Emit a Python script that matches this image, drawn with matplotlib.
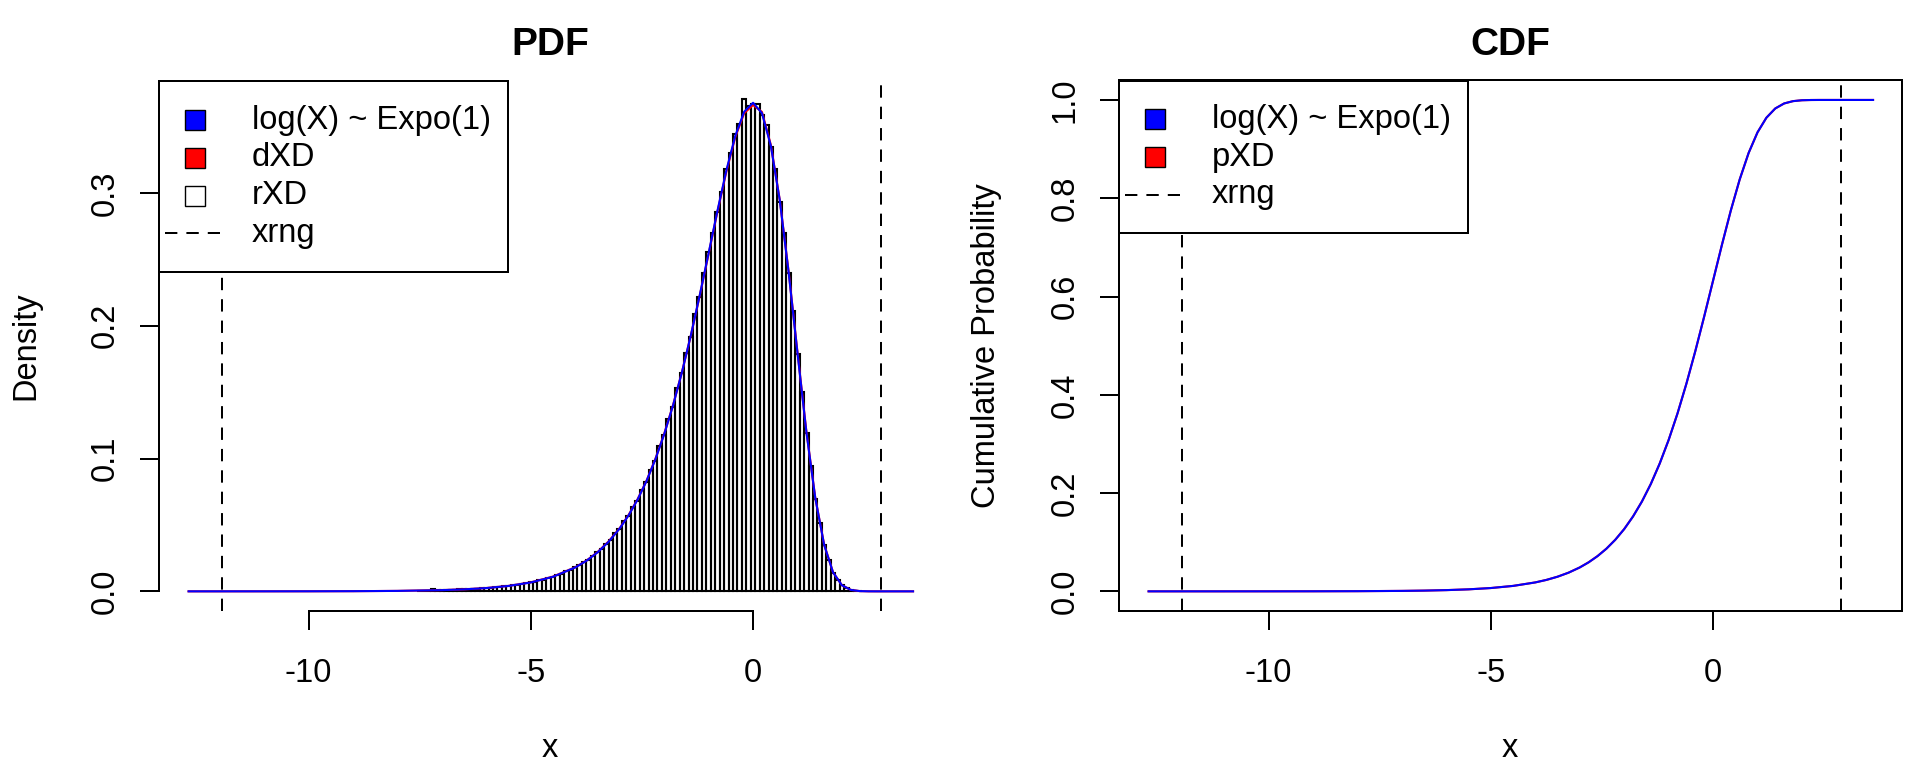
import matplotlib
matplotlib.use("Agg")
import matplotlib.pyplot as plt
from matplotlib.patches import Rectangle
from matplotlib.lines import Line2D
import numpy as np

plt.rcParams['font.family'] = ['Liberation Sans', 'DejaVu Sans']
plt.rcParams['lines.scale_dashes'] = False
plt.rcParams['axes.unicode_minus'] = False

# histogram of rXD: first bin starts at bin_lo, width bin_w
bin_lo = -7.55
bin_w = 0.1
hist_density = [
    0.0005, 0.0006, 0.0004, 0.0016, 0.0008, 0.0009, 0.0011, 0.0010, 0.0013, 0.0014,
    0.0016, 0.0015, 0.0019, 0.0020, 0.0023, 0.0026, 0.0027, 0.0031, 0.0033, 0.0038,
    0.0040, 0.0046, 0.0049, 0.0056, 0.0060, 0.0068, 0.0073, 0.0083, 0.0089, 0.0102,
    0.0108, 0.0125, 0.0131, 0.0150, 0.0161, 0.0182, 0.0196, 0.0222, 0.0238, 0.0263,
    0.0297, 0.0319, 0.0360, 0.0386, 0.0436, 0.0468, 0.0527, 0.0566, 0.0636, 0.0682,
    0.0764, 0.0820, 0.0915, 0.0985, 0.1093, 0.1176, 0.1297, 0.1391, 0.1530, 0.1641,
    0.1794, 0.1918, 0.2087, 0.2218, 0.2395, 0.2555, 0.2700, 0.2858, 0.3010, 0.3178,
    0.3298, 0.3440, 0.3522, 0.3710, 0.3652, 0.3668, 0.3671, 0.3590, 0.3510, 0.3345,
    0.3180, 0.2935, 0.2700, 0.2395, 0.2110, 0.1788, 0.1498, 0.1195, 0.0941, 0.0698,
    0.0512, 0.0347, 0.0233, 0.0141, 0.0085, 0.0045, 0.0024, 0.0011, 0.0005, 0.0002,
]

# curve grid
curve_x = [-12.7, -12, -11, -10, -9, -8, -7, -6.5, -6, -5.5, -5, -4.5, -4, -3.75, -3.5, -3.25,
           -3.0, -2.8, -2.6, -2.4, -2.2, -2.0, -1.8, -1.6, -1.4, -1.2, -1.0, -0.8, -0.6, -0.4, -0.2,
           0.0, 0.2, 0.4, 0.6, 0.8, 1.0, 1.2, 1.4, 1.6, 1.8, 2.0, 2.2, 2.4, 2.6, 2.8, 3.0, 3.2, 3.4, 3.6]

# log(X) ~ Expo(1) density (blue) and dXD (red)
pdf_true = [0.000003, 0.000006, 0.000017, 0.000045, 0.000123, 0.000335, 0.00091, 0.0015, 0.00247, 0.00407,
            0.00669, 0.01099, 0.01798, 0.02297, 0.0293, 0.0373,
            0.04736, 0.05722, 0.06896, 0.08285, 0.09918, 0.1182, 0.1400, 0.1650, 0.1927, 0.2229, 0.2546,
            0.2867, 0.3170, 0.3429, 0.3611, 0.3679, 0.3601, 0.3355, 0.2947, 0.2404, 0.1794, 0.1200, 0.0703,
            0.0350, 0.0143, 0.00457, 0.00109, 0.00018, 0.00002, 0.0, 0.0, 0.0, 0.0, 0.0]
dXD = [0.000003, 0.000006, 0.000017, 0.000045, 0.000123, 0.000340, 0.00093, 0.0015, 0.00250, 0.00410,
       0.00675, 0.01110, 0.01810, 0.02310, 0.0295, 0.0376,
       0.04760, 0.05750, 0.06920, 0.08300, 0.09950, 0.1185, 0.1402, 0.1650, 0.1925, 0.2225, 0.2540,
       0.2860, 0.3160, 0.3420, 0.3600, 0.3662, 0.3610, 0.3362, 0.2950, 0.2410, 0.1800, 0.1205, 0.0705,
       0.0351, 0.0143, 0.00457, 0.00109, 0.00018, 0.00002, 0.0, 0.0, 0.0, 0.0, 0.0]

# log(X) ~ Expo(1) cdf (blue) and pXD (red)
cdf_true = [0.0, 0.000006, 0.000017, 0.000045, 0.000123, 0.000335, 0.00091, 0.0015, 0.00248, 0.00408,
            0.00672, 0.01105, 0.01815, 0.02325, 0.02975, 0.03803,
            0.04857, 0.0590, 0.0716, 0.0867, 0.1049, 0.1266, 0.1524, 0.1828, 0.2185, 0.2601, 0.3078,
            0.3619, 0.4224, 0.4885, 0.5590, 0.6321, 0.7052, 0.7751, 0.8383, 0.8920, 0.9340, 0.9638, 0.9827,
            0.9929, 0.9976, 0.9994, 0.9999, 1.0, 1.0, 1.0, 1.0, 1.0, 1.0, 1.0]
pXD = [0.0, 0.000006, 0.000017, 0.000045, 0.000123, 0.000335, 0.00092, 0.0015, 0.00249, 0.00409,
       0.00673, 0.01106, 0.01816, 0.02326, 0.02977, 0.03806,
       0.04860, 0.0591, 0.0717, 0.0868, 0.1050, 0.1267, 0.1525, 0.1829, 0.2186, 0.2602, 0.3079,
       0.3620, 0.4225, 0.4886, 0.5591, 0.6322, 0.7053, 0.7752, 0.8384, 0.8921, 0.9341, 0.9638, 0.9827,
       0.9929, 0.9976, 0.9994, 0.9999, 1.0, 1.0, 1.0, 1.0, 1.0, 1.0, 1.0]

xrng = [-11.95, 2.88]

W, H = 1920, 768
LW = 1.44
FS = 23.5
fig = plt.figure(figsize=(W / 100, H / 100), dpi=100)

def fx(px):
    return px / W

def fy(py):
    return 1 - py / H

ax1 = fig.add_axes([fx(158.8), fy(611), fx(941.5) - fx(158.8), fy(80.3) - fy(611)])
ax2 = fig.add_axes([fx(1118.8), fy(611), fx(1901.5) - fx(1118.8), fy(80.3) - fy(611)])

# PDF panel
edges = bin_lo + bin_w * np.arange(len(hist_density))
ax1.bar(edges, hist_density, width=bin_w, align='edge', fill=False, edgecolor='black', linewidth=1.5, zorder=2)
ax1.plot(curve_x, dXD, color='#FF0000', lw=1.5, zorder=3)
ax1.plot(curve_x, pdf_true, color='#0000FF', lw=1.5, zorder=4)
for v in xrng:
    ax1.axvline(v, color='black', lw=LW, ls=(0, (8.9, 6.5)), zorder=5)
ax1.set_xlim(-13.37, 4.24)
ax1.set_ylim(-0.0148, 0.3848)
ax1.set_xticks([-10, -5, 0])
ax1.set_yticks([0, 0.1, 0.2, 0.3])
ax1.set_yticklabels(['0.0', '0.1', '0.2', '0.3'])
for s in ['top', 'right']:
    ax1.spines[s].set_visible(False)
ax1.spines['left'].set_bounds(0, 0.3)
ax1.spines['bottom'].set_bounds(-10, 0)

# CDF panel
ax2.plot(curve_x, pXD, color='#FF0000', lw=1.5, zorder=3)
ax2.plot(curve_x, cdf_true, color='#0000FF', lw=1.5, zorder=4)
for v in xrng:
    ax2.axvline(v, color='black', lw=LW, ls=(0, (8.9, 6.5)), zorder=5)
ax2.set_xlim(-13.37, 4.24)
ax2.set_ylim(-0.04, 1.04)
ax2.set_xticks([-10, -5, 0])
ax2.set_yticks([0, 0.2, 0.4, 0.6, 0.8, 1.0])
ax2.set_yticklabels(['0.0', '0.2', '0.4', '0.6', '0.8', '1.0'])

for ax in (ax1, ax2):
    for s in ax.spines.values():
        s.set_linewidth(LW)
    ax.tick_params(axis='both', direction='out', length=13.8, width=LW, labelsize=FS)
    ax.tick_params(axis='x', pad=20)
    ax.tick_params(axis='y', pad=13.8, labelrotation=90)
    for lbl in ax.get_yticklabels():
        lbl.set_va('center')

# titles and axis labels
fig.text(fx(550), fy(55), 'PDF', ha='center', va='baseline', fontsize=28, fontweight='bold')
fig.text(fx(1510), fy(55), 'CDF', ha='center', va='baseline', fontsize=28, fontweight='bold')
fig.text(fx(550), fy(756.7), 'x', ha='center', va='baseline', fontsize=FS)
fig.text(fx(1510), fy(756.7), 'x', ha='center', va='baseline', fontsize=FS)
fig.text(fx(26), fy(345.5), 'Density', ha='center', va='center', rotation=90, fontsize=FS)
fig.text(fx(986), fy(345.5), 'Cumulative Probability', ha='center', va='center', rotation=90, fontsize=FS)


def legend_box(x0, y0, x1, y1, rows, sq_x, dash_x, text_x):
    fig.add_artist(Rectangle((fx(x0), fy(y1)), fx(x1) - fx(x0), fy(y0) - fy(y1),
                             transform=fig.transFigure, facecolor='white', edgecolor='black',
                             lw=LW, zorder=10))
    for kind, colour, label, yc in rows:
        if kind == 'box':
            fig.add_artist(Rectangle((fx(sq_x - 10), fy(yc + 10)), fx(20), 20 / H,
                                     transform=fig.transFigure, facecolor=colour,
                                     edgecolor='black', lw=1.0, zorder=11))
        else:
            fig.add_artist(Line2D([fx(dash_x[0]), fx(dash_x[1])], [fy(yc), fy(yc)],
                                  transform=fig.transFigure, color='black', lw=LW,
                                  ls=(0, (8.9, 6.5)), zorder=11))
        fig.text(fx(text_x), fy(yc), label, ha='left', va='center', fontsize=FS, zorder=12)


legend_box(158.8, 80.8, 508.3, 271.7,
           [('box', '#0000FF', 'log(X) ~ Expo(1)', 120),
            ('box', '#FF0000', 'dXD', 157.5),
            ('box', 'white', 'rXD', 196),
            ('line', None, 'xrng', 233.3)],
           195, (165, 220), 251.7)
legend_box(1118.8, 80.8, 1468.3, 233.3,
           [('box', '#0000FF', 'log(X) ~ Expo(1)', 119.3),
            ('box', '#FF0000', 'pXD', 157.3),
            ('line', None, 'xrng', 195)],
           1155, (1125, 1180), 1211.7)

fig.savefig('out.png', dpi=100)
